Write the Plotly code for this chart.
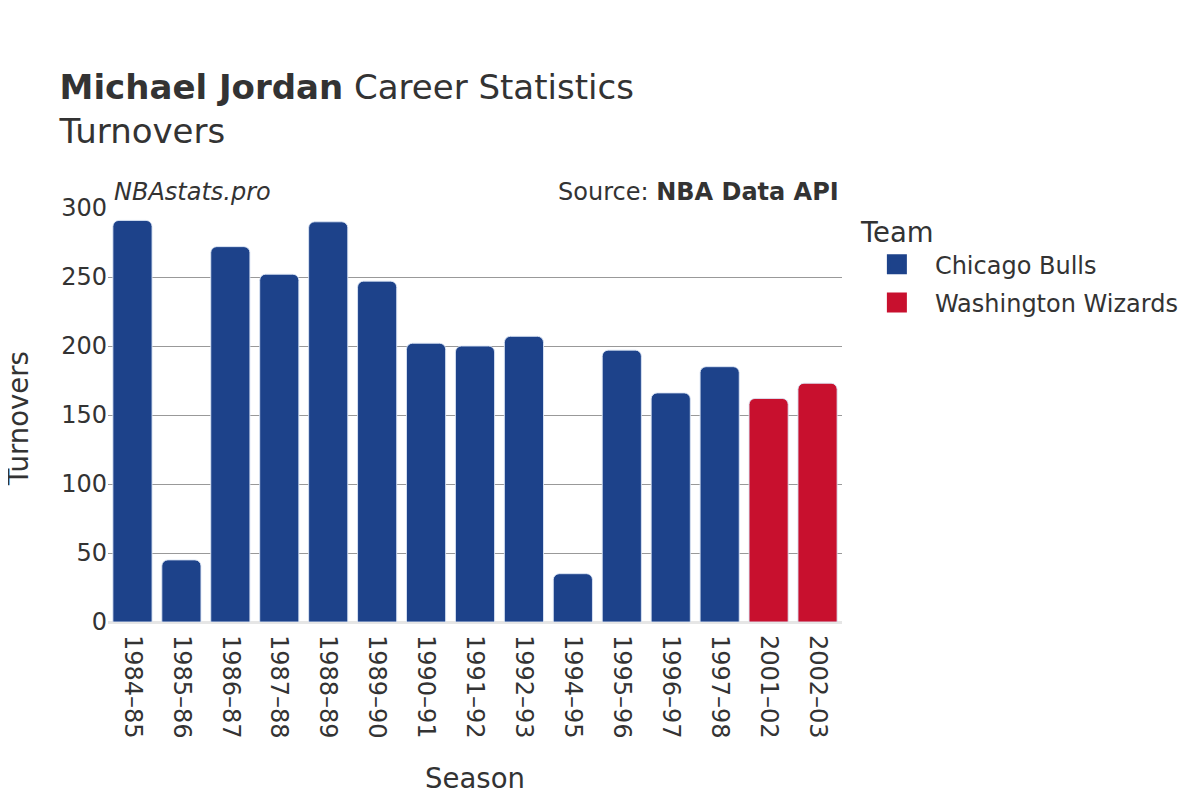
import plotly.graph_objects as go

seasons = ["1984–85", "1985–86", "1986–87", "1987–88", "1988–89", "1989–90", "1990–91",
           "1991–92", "1992–93", "1994–95", "1995–96", "1996–97", "1997–98", "2001–02", "2002–03"]
teams = ["Chicago Bulls"] * 13 + ["Washington Wizards"] * 2
turnovers = [291, 45, 272, 252, 290, 247, 202, 200, 207, 35, 197, 166, 185, 162, 173]
team_names = ["Chicago Bulls", "Washington Wizards"]
team_colors = {"Chicago Bulls": "#1D428A", "Washington Wizards": "#C8102E"}

fig = go.Figure()
for team in team_names:
    xs = [s for s, t in zip(seasons, teams) if t == team]
    ys = [v for v, t in zip(turnovers, teams) if t == team]
    fig.add_trace(go.Bar(
        x=xs, y=ys, name=team, showlegend=False, legendgroup=team,
        marker=dict(color=team_colors[team], cornerradius=6,
                    line=dict(color="rgba(220,230,245,0.9)", width=1)),
    ))
    # legend-only marker with a larger swatch
    fig.add_trace(go.Scatter(
        x=[None], y=[None], mode="markers", name=team, legendgroup=team,
        marker=dict(symbol="square", size=16, color=team_colors[team],
                    line=dict(color=team_colors[team], width=4)),
    ))

font_family = "DejaVu Sans"
fig.update_layout(
    width=1200, height=800,
    barmode="overlay",
    bargap=0.2,
    plot_bgcolor="white", paper_bgcolor="white",
    font=dict(family=font_family, color="#333333", size=20),
    margin=dict(l=100, r=366, t=200, b=186),
    title=dict(
        text="<b>Michael Jordan</b> Career Statistics<br>Turnovers",
        x=0.043, xanchor="left", y=0.886, yanchor="top",
        font=dict(size=34, family=font_family, color="#333333"),
    ),
    xaxis=dict(
        title=dict(text="Season", font=dict(size=27.5), standoff=31),
        categoryorder="array", categoryarray=seasons,
        tickangle=90, tickfont=dict(size=24),
        ticklabelstandoff=12,
        showgrid=False, showline=False, ticks="",
        automargin=False,
    ),
    yaxis=dict(
        range=[0, 300], tickvals=[0, 50, 100, 150, 200, 250, 300],
        tickfont=dict(size=24),
        showgrid=True, gridcolor="#999999", gridwidth=1,
        zeroline=True, zerolinecolor="#e6e6e6", zerolinewidth=3,
        ticks="",
        automargin=False,
    ),
    legend=dict(
        title=dict(text="Team", font=dict(size=27.5)),
        font=dict(size=24),
        x=1.023, xanchor="left", y=1.004, yanchor="top",
        itemwidth=66,
        tracegroupgap=4,
    ),
    annotations=[
        dict(text="<i>NBAstats.pro</i>", xref="paper", yref="paper", x=0.005, y=1.0,
             xanchor="left", yanchor="bottom", showarrow=False, font=dict(size=24)),
        dict(text="Source: <b>NBA Data API</b>", xref="paper", yref="paper", x=0.999, y=1.0,
             xanchor="right", yanchor="bottom", showarrow=False, font=dict(size=24)),
        dict(text="Turnovers", xref="paper", yref="paper", x=-0.1226, y=0.49,
             xanchor="center", yanchor="middle", textangle=-90, showarrow=False,
             font=dict(size=27.5)),
    ],
)

fig.write_html("out.html")
